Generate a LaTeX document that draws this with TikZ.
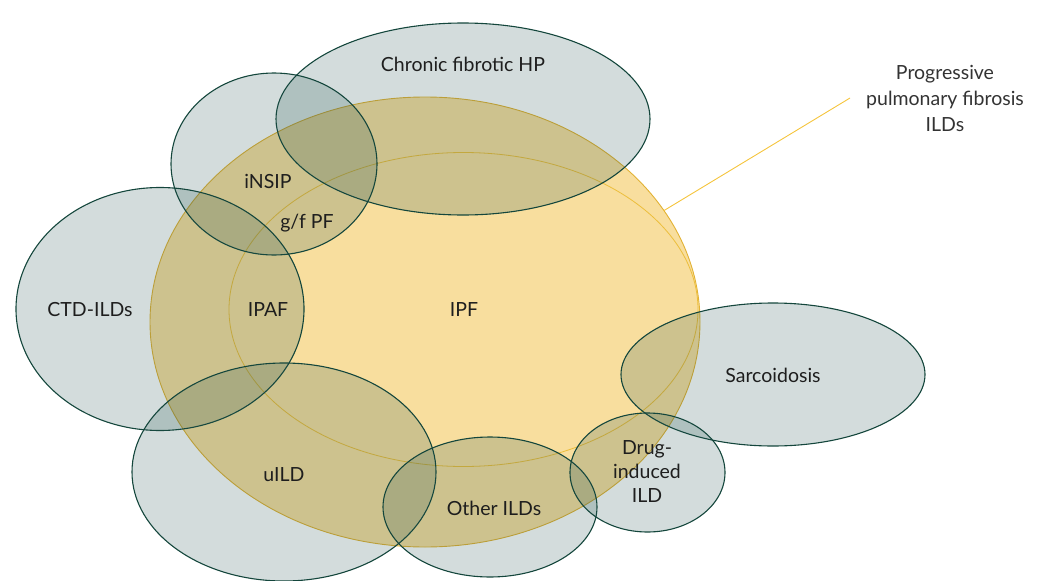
\documentclass[tikz,border=0pt]{standalone}
\usepackage{fontspec}
\setmainfont{Lato}
\usetikzlibrary{shapes.geometric}
\definecolor{ppfill}{RGB}{248,222,158}
\definecolor{ppline}{RGB}{226,178,52}
\definecolor{ipfline}{RGB}{236,190,60}
\definecolor{leadline}{RGB}{245,196,60}
\definecolor{grfill}{RGB}{33,82,78}
\definecolor{grline}{RGB}{20,70,60}
\definecolor{txt}{RGB}{30,30,30}
\definecolor{txtb}{RGB}{51,51,51}
\tikzset{
  ell/.style={ellipse, inner sep=0pt, outer sep=0pt},
  grey ell/.style={ell, draw=grline, line width=1.1pt, fill=grfill, fill opacity=0.2, draw opacity=1},
  lbl/.style={text=txt, font=\fontsize{19.5}{24}\selectfont, align=center, inner sep=0pt},
}
\begin{document}
\begin{tikzpicture}[x=1pt,y=-1pt]
\useasboundingbox (0,0) rectangle (1045,581);
% big yellow ellipse
\node[ell, fill=ppfill, draw=ppline, line width=0.9pt, minimum width=550pt, minimum height=450pt] (ppf) at (425,322) {};
\node[ell, draw=ipfline, line width=0.8pt, minimum width=469pt, minimum height=314pt] (ipf) at (463.5,309.5) {};
% grey ellipses
\node[grey ell, minimum width=374pt, minimum height=192pt] (hp) at (463,119) {};
\node[grey ell, minimum width=206pt, minimum height=182pt] (nsip) at (274,164) {};
\node[grey ell, minimum width=288pt, minimum height=243pt] (ctd) at (160,309) {};
\node[grey ell, minimum width=304pt, minimum height=218pt] (uild) at (284,472) {};
\node[grey ell, minimum width=214pt, minimum height=140pt] (other) at (490,507) {};
\node[grey ell, minimum width=304pt, minimum height=143pt] (sarc) at (773,374.5) {};
\node[grey ell, minimum width=155pt, minimum height=119pt] (drug) at (647.5,472.5) {};
% labels
\node[lbl] (thp) at (463,64) {Chronic fibrotic HP};
\node[lbl] (tnsip) at (268,181) {iNSIP};
\node[lbl] (tgf) at (307,223) {g/f PF};
\node[lbl] (tctd) at (90,310) {CTD-ILDs};
\node[lbl] (tipaf) at (268,310) {IPAF};
\node[lbl] (tipf) at (464,310) {IPF};
\node[lbl] (tuild) at (284,475) {uILD};
\node[lbl] (tother) at (494,508) {Other ILDs};
\node[lbl] (tsarc) at (773,375) {Sarcoidosis};
\node[lbl, font=\fontsize{19.5}{24}\selectfont] (tdrug) at (647,472) {Drug-\\induced\\ILD};
\node[lbl, text=txtb, font=\fontsize{19.5}{26}\selectfont] (tppf) at (945,98) {Progressive\\pulmonary fibrosis\\ILDs};
\coordinate (leadend) at (850,98);
\draw[leadline, line width=0.9pt] (ppf.25.7) -- (leadend);
\end{tikzpicture}
\end{document}
